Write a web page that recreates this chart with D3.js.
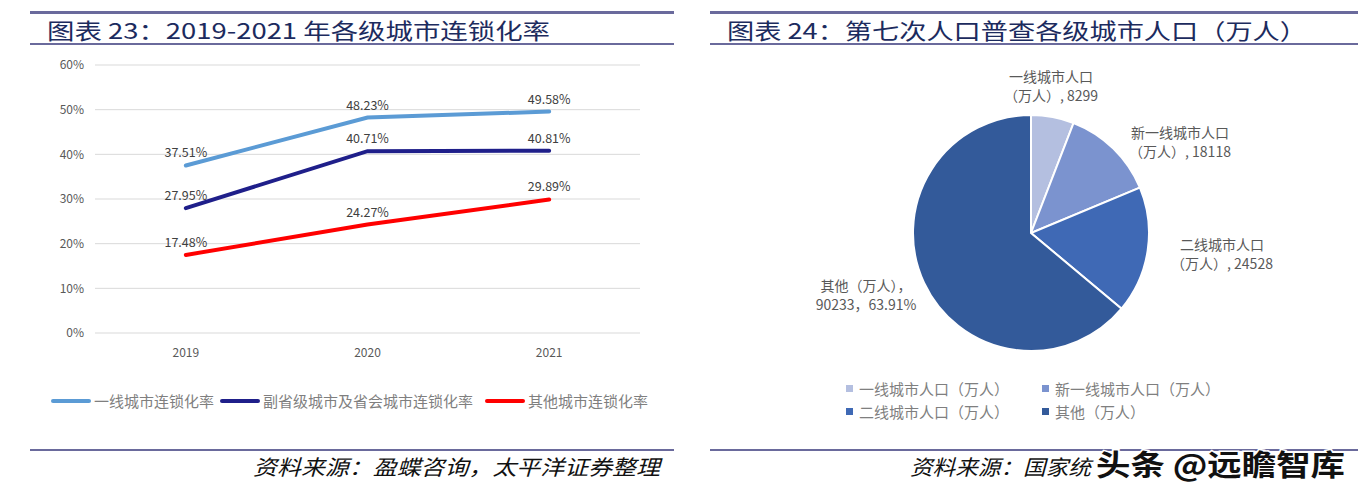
<!DOCTYPE html>
<html><head><meta charset="utf-8">
<script src="https://cdn.jsdelivr.net/npm/d3@7"></script>
<style>body{margin:0;background:#fff}svg{display:block}</style>
</head><body><svg id="c" width="1362" height="498"></svg>
<script>
// ---- data ----
const years = ["2019", "2020", "2021"];
const seriesNames = ["一线城市连锁化率", "副省级城市及省会城市连锁化率", "其他城市连锁化率"];
const tier1Rate = [37.51, 48.23, 49.58];
const provRate = [27.95, 40.71, 40.81];
const otherRate = [17.48, 24.27, 29.89];
const yTicks = [0, 10, 20, 30, 40, 50, 60];
const pieCats = ["一线城市人口（万人）", "新一线城市人口（万人）", "二线城市人口（万人）", "其他（万人）"];
const pieValues = [8299, 18118, 24528, 90233];

const svg = d3.select("#c");
const FONT = "'Noto Sans CJK SC', 'Noto Sans', sans-serif";
const ruleC = "#6a6a9c";

function frame(x0, x1, title, titleLen, tx) {
  svg.append("rect").attr("x", x0).attr("y", 11).attr("width", x1 - x0).attr("height", 3).attr("fill", ruleC);
  svg.append("rect").attr("x", x0).attr("y", 43).attr("width", x1 - x0).attr("height", 2).attr("fill", ruleC);
  svg.append("text").attr("x", tx).attr("y", 39).attr("font-family", FONT).attr("font-size", 22)
    .attr("fill", "#1c2b5e").attr("textLength", titleLen).attr("lengthAdjust", "spacingAndGlyphs").text(title);
  svg.append("rect").attr("x", x0).attr("y", 449).attr("width", x1 - x0).attr("height", 2).attr("fill", ruleC);
}
frame(30, 674, "图表 23：2019-2021 年各级城市连锁化率", 503, 47);
frame(710, 1358, "图表 24：第七次人口普查各级城市人口（万人）", 580, 727);

// ---- line chart ----
const x = d3.scaleBand().domain(years).range([95, 640]);
const y = d3.scaleLinear().domain([0, 60]).range([333, 65]);
const g = svg.append("g");
g.selectAll("line.grid").data(yTicks).join("line")
  .attr("x1", 95).attr("x2", 640).attr("y1", d => y(d)).attr("y2", d => y(d))
  .attr("stroke", "#d9d9d9").attr("stroke-width", 1);
const yAxis = g.append("g").attr("transform", "translate(95,0)")
  .call(d3.axisLeft(y).tickValues(yTicks).tickFormat(d => d + "%").tickSize(0).tickPadding(11));
yAxis.select(".domain").remove();
yAxis.selectAll("text").attr("font-family", FONT).attr("font-size", 12).attr("fill", "#595959");
const xAxis = g.append("g").attr("transform", "translate(0,333)")
  .call(d3.axisBottom(x).tickSize(0).tickPadding(15));
xAxis.select(".domain").remove();
xAxis.selectAll("text").attr("font-family", FONT).attr("font-size", 12).attr("fill", "#595959");

const series = [
  {name: seriesNames[0], vals: tier1Rate, color: "#5b9bd5"},
  {name: seriesNames[1], vals: provRate, color: "#1f1f8a"},
  {name: seriesNames[2], vals: otherRate, color: "#ff0000"}
];
const cx = d => x(d) + x.bandwidth() / 2;
const line = d3.line().x((d, i) => cx(years[i])).y(d => y(d));
series.forEach(s => {
  g.append("path").attr("d", line(s.vals)).attr("fill", "none").attr("stroke", s.color)
    .attr("stroke-width", 4).attr("stroke-linecap", "round");
  g.selectAll(null).data(s.vals).join("text")
    .attr("x", (d, i) => cx(years[i])).attr("y", d => y(d) - 8)
    .attr("text-anchor", "middle").attr("font-family", FONT).attr("font-size", 12.5).attr("fill", "#404040")
    .text(d => d.toFixed(2) + "%");
});
// legend
const legX = [53, 222, 487];
series.forEach((s, i) => {
  g.append("line").attr("x1", legX[i]).attr("x2", legX[i] + 36).attr("y1", 401).attr("y2", 401)
    .attr("stroke", s.color).attr("stroke-width", 4).attr("stroke-linecap", "round");
  g.append("text").attr("x", legX[i] + 41).attr("y", 406.5).attr("font-family", FONT).attr("font-size", 15)
    .attr("fill", "#7f7f7f").text(s.name);
});
svg.append("text").attr("x", 253).attr("y", 475).attr("font-family", FONT)
  .attr("font-size", 21).attr("font-style", "italic").attr("fill", "#111")
  .attr("textLength", 407).attr("lengthAdjust", "spacingAndGlyphs").text("资料来源：盈蝶咨询，太平洋证券整理");

// ---- pie ----
const pieColors = ["#b4bfe0", "#7b93cf", "#3f69b5", "#335a9a"];
const pc = {x: 1031, y: 233}, R = 118;
const pie = d3.pie().sort(null).value(d => d)(pieValues);
const arc = d3.arc().innerRadius(0).outerRadius(R);
const pg = svg.append("g").attr("transform", `translate(${pc.x},${pc.y})`);
pg.selectAll("path").data(pie).join("path").attr("d", arc)
  .attr("fill", (d, i) => pieColors[i]).attr("stroke", "#fff").attr("stroke-width", 2);
const total = d3.sum(pieValues);
const pieLabels = [
  {l1: "一线城市人口", l2: "（万人）, " + pieValues[0], x: 1051, y: 82},
  {l1: "新一线城市人口", l2: "（万人）, " + pieValues[1], x: 1180, y: 138},
  {l1: "二线城市人口", l2: "（万人）, " + pieValues[2], x: 1222, y: 250},
  {l1: "其他（万人），", l2: pieValues[3] + "，" + (pieValues[3] / total * 100).toFixed(2) + "%", x: 866, y: 291}
];
pieLabels.forEach(p => {
  [p.l1, p.l2].forEach((t, k) => {
    svg.append("text").attr("x", p.x).attr("y", p.y + k * 19).attr("text-anchor", "middle")
      .attr("font-family", FONT).attr("font-size", 14).attr("fill", "#595959").text(t);
  });
});
// pie legend
const lp = [{x: 849, y: 389}, {x: 1045, y: 389}, {x: 849, y: 412}, {x: 1045, y: 412}];
pieCats.forEach((c, i) => {
  svg.append("rect").attr("x", lp[i].x - 3).attr("y", lp[i].y - 4).attr("width", 7).attr("height", 7).attr("fill", pieColors[i]);
  svg.append("text").attr("x", lp[i].x + 10).attr("y", lp[i].y + 5.5).attr("font-family", FONT)
    .attr("font-size", 15).attr("fill", "#7f7f7f").text(c);
});
// visible part of the source line (the rest is covered by the watermark in the reference)
svg.append("text").attr("x", 910).attr("y", 475).attr("font-family", FONT)
  .attr("font-size", 21).attr("font-style", "italic").attr("fill", "#111")
  .attr("textLength", 181).attr("lengthAdjust", "spacingAndGlyphs").text("资料来源：国家统");
svg.append("text").attr("x", 1096).attr("y", 476).attr("font-family", FONT)
  .attr("font-size", 29).attr("font-weight", "bold").attr("fill", "#111")
  .attr("stroke", "#fff").attr("stroke-width", 3).attr("paint-order", "stroke")
  .attr("textLength", 249).attr("lengthAdjust", "spacingAndGlyphs").text("头条 @远瞻智库");
</script></body></html>
